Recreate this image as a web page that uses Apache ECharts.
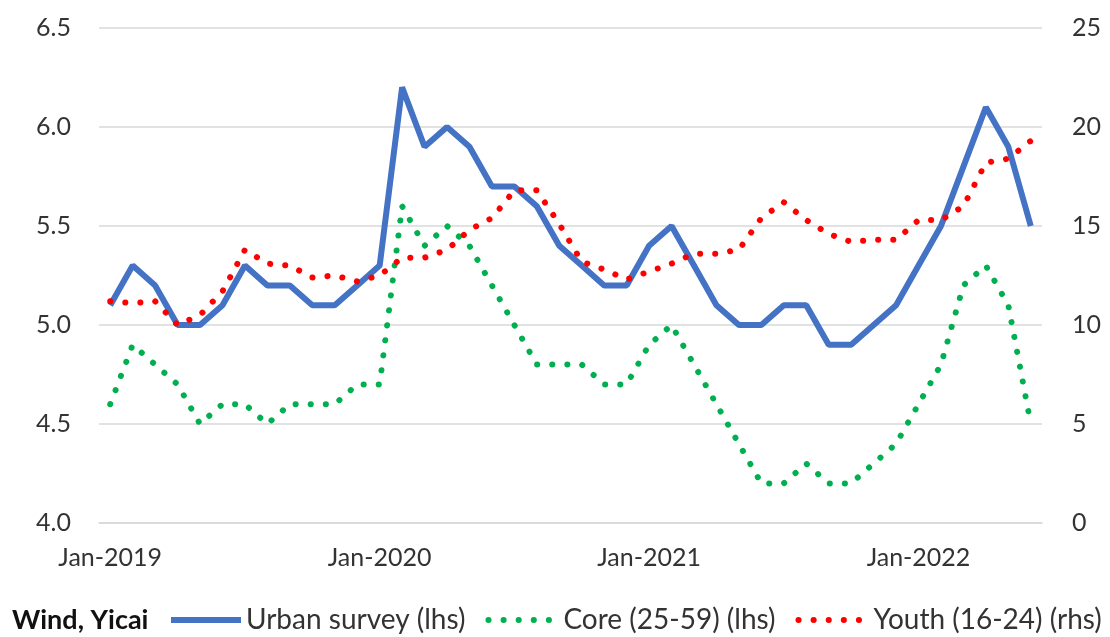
<!DOCTYPE html>
<html>
<head>
    <meta charset="UTF-8">
    <title>Unemployment</title>
    <script src="https://cdn.jsdelivr.net/npm/echarts@6/dist/echarts.min.js"></script>
    <style>
        html, body { margin: 0; padding: 0; background: #fff; }
        #main { width: 1110px; height: 637px; }
    </style>
</head>
<body>
    <div id="main"></div>
    <script type="text/javascript">
        // months Jan-2019 .. Jun-2022
        var monthNames = ['Jan', 'Feb', 'Mar', 'Apr', 'May', 'Jun', 'Jul', 'Aug', 'Sep', 'Oct', 'Nov', 'Dec'];
        var years = ['2019', '2020', '2021', '2022'];
        var months = [];
        for (var y = 0; y < years.length; y++) {
            for (var m = 0; m < 12; m++) {
                if (years[y] === '2022' && m > 5) break;
                months.push(monthNames[m] + '-' + years[y]);
            }
        }

        // urban surveyed unemployment (lhs, %)
        var urban = [5.1, 5.3, 5.2, 5.0, 5.0, 5.1, 5.3, 5.2, 5.2, 5.1, 5.1, 5.2,
            5.3, 6.2, 5.9, 6.0, 5.9, 5.7, 5.7, 5.6, 5.4, 5.3, 5.2, 5.2,
            5.4, 5.5, 5.3, 5.1, 5.0, 5.0, 5.1, 5.1, 4.9, 4.9, 5.0, 5.1,
            5.3, 5.5, 5.8, 6.1, 5.9, 5.5];
        // core 25-59 (lhs, %)
        var core = [4.6, 4.9, 4.8, 4.7, 4.5, 4.6, 4.6, 4.5, 4.6, 4.6, 4.6, 4.7,
            4.7, 5.6, 5.4, 5.5, 5.4, 5.2, 5.0, 4.8, 4.8, 4.8, 4.7, 4.7,
            4.9, 5.0, 4.8, 4.6, 4.4, 4.2, 4.2, 4.3, 4.2, 4.2, 4.3, 4.4,
            4.6, 4.8, 5.2, 5.3, 5.1, 4.5];
        // youth 16-24 (rhs, %)
        var youth = [11.2, 11.1, 11.2, 10.0, 10.5, 11.7, 13.8, 13.1, 13.0, 12.4, 12.5, 12.2,
            12.5, 13.4, 13.4, 13.8, 14.8, 15.4, 16.8, 16.8, 15.1, 13.2, 12.8, 12.3,
            12.7, 13.1, 13.6, 13.6, 13.8, 15.4, 16.2, 15.3, 14.6, 14.2, 14.3, 14.3,
            15.3, 15.3, 16.0, 18.2, 18.4, 19.3];

        var seriesNames = ['Urban survey (lhs)', 'Core (25-59) (lhs)', 'Youth (16-24) (rhs)'];

        var font = 'Lato';
        var textColor = '#333';
        var gridColor = '#d9d9d9';

        var myChart = echarts.init(document.getElementById('main'));

        var option = {
            animation: false,
            grid: {
                left: 99,
                right: 68,
                top: 28,
                bottom: 114
            },
            graphic: [{
                type: 'text',
                left: 12,
                top: 607,
                style: {
                    text: 'Wind, Yicai',
                    font: 'bold 27px Lato',
                    fill: '#111'
                }
            }],
            legend: {
                left: 163,
                top: 601,
                itemWidth: 70,
                itemHeight: 14,
                itemGap: 20,
                data: seriesNames,
                lineStyle: { width: 6 },
                itemStyle: { color: 'rgba(0,0,0,0)', borderWidth: 0, opacity: 0 },
                textStyle: { fontSize: 28, fontFamily: font, color: textColor }
            },
            xAxis: [
                {
                    type: 'category',
                    data: months,
                    boundaryGap: true,
                    axisLine: { lineStyle: { color: gridColor, width: 1.5 } },
                    axisTick: { interval: 5, length: 7, lineStyle: { color: gridColor, width: 1.5 } },
                    axisLabel: { interval: 11, fontSize: 25, fontFamily: font, color: textColor, margin: 22 }
                },
                {
                    // inner half of the cross ticks
                    type: 'category',
                    data: months,
                    position: 'bottom',
                    boundaryGap: true,
                    axisLine: { show: false },
                    axisTick: { inside: true, interval: 5, length: 5, lineStyle: { color: gridColor, width: 1.5 } },
                    axisLabel: { show: false }
                }
            ],
            yAxis: [
                {
                    type: 'value',
                    min: 4,
                    max: 6.5,
                    interval: 0.5,
                    axisLine: { show: false },
                    axisTick: { show: false },
                    axisLabel: {
                        margin: 28, fontSize: 25, fontFamily: font, color: textColor,
                        formatter: function (v) { return v.toFixed(1); }
                    },
                    splitLine: { lineStyle: { color: gridColor, width: 1.5 } }
                },
                {
                    type: 'value',
                    position: 'right',
                    min: 0,
                    max: 25,
                    interval: 5,
                    axisLine: { show: false },
                    axisTick: { show: false },
                    axisLabel: { margin: 30, fontSize: 25, fontFamily: font, color: textColor },
                    splitLine: { show: false }
                }
            ],
            series: [
                {
                    name: seriesNames[0],
                    type: 'line',
                    data: urban,
                    yAxisIndex: 0,
                    symbol: 'none',
                    color: '#4472C4',
                    lineStyle: { color: '#4472C4', width: 6 }
                },
                {
                    name: seriesNames[1],
                    type: 'line',
                    data: core,
                    yAxisIndex: 0,
                    symbol: 'none',
                    color: '#00B050',
                    lineStyle: { color: '#00B050', width: 6, type: [0.1, 15], cap: 'round' }
                },
                {
                    name: seriesNames[2],
                    type: 'line',
                    data: youth,
                    yAxisIndex: 1,
                    symbol: 'none',
                    color: '#FF0000',
                    lineStyle: { color: '#FF0000', width: 6, type: [0.1, 15], cap: 'round' }
                }
            ]
        };

        myChart.setOption(option);
    </script>
</body>
</html>
